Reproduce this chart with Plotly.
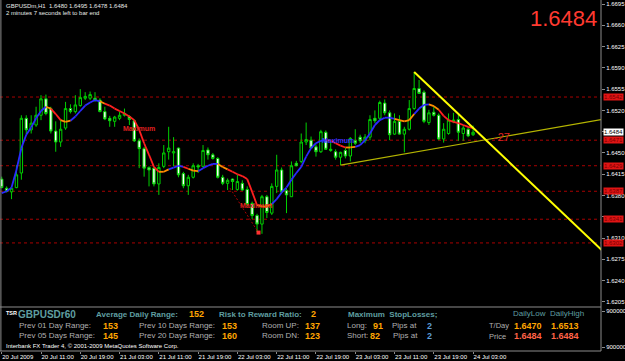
import plotly.graph_objects as go

FONT = "Liberation Sans, Arial, sans-serif"

# ---------------- data ----------------
symbol_title = "GBPUSDm,H1"
bar_index = list(range(97))
time_tick_bars = [0, 8, 16, 24, 32, 40, 48, 56, 64, 72, 80, 88, 96]
time_tick_labels = ["20 Jul 2009", "20 Jul 11:00", "20 Jul 19:00", "21 Jul 03:00",
                    "21 Jul 11:00", "21 Jul 19:00", "22 Jul 03:00", "22 Jul 11:00",
                    "22 Jul 19:00", "23 Jul 03:00", "23 Jul 11:00", "23 Jul 19:00",
                    "24 Jul 03:00"]
price_ticks = [1.6205, 1.6240, 1.6275, 1.6310, 1.6345, 1.6380, 1.6415, 1.6450,
               1.6485, 1.6520, 1.6555, 1.6590, 1.6625, 1.6660, 1.6695]
# tick labels hidden behind the price boxes on the axis
price_ticks_covered = [1.6345, 1.6485]

opens = [1.6407, 1.6392, 1.6386, 1.6393, 1.6417, 1.6507, 1.6488, 1.6496, 1.6512, 1.6539,
         1.6523, 1.6486, 1.6468, 1.6491, 1.6523, 1.6518, 1.6528, 1.6540, 1.6540, 1.6540,
         1.6537, 1.6518, 1.6507, 1.6502, 1.6507, 1.6512, 1.6510, 1.6503, 1.6470, 1.6457,
         1.6426, 1.6425, 1.6399, 1.6428, 1.6452, 1.6450, 1.6458, 1.6416, 1.6396, 1.6410,
         1.6429, 1.6428, 1.6455, 1.6447, 1.6441, 1.6410, 1.6400, 1.6407, 1.6390, 1.6400,
         1.6390, 1.6367, 1.6347, 1.6333, 1.6378, 1.6351, 1.6395, 1.6422, 1.6388, 1.6378,
         1.6433, 1.6436, 1.6468, 1.6471, 1.6460, 1.6452, 1.6484, 1.6454, 1.6452, 1.6443,
         1.6454, 1.6445, 1.6470, 1.6476, 1.6470, 1.6476, 1.6507, 1.6507, 1.6532, 1.6516,
         1.6481, 1.6502, 1.6481, 1.6489, 1.6523, 1.6556, 1.6550, 1.6500, 1.6517, 1.6512,
         1.6473, 1.6482, 1.6502, 1.6505, 1.6482, 1.6489, 1.6480]
highs = [1.6411, 1.6395, 1.6393, 1.6430, 1.6512, 1.6512, 1.6512, 1.6526, 1.6545, 1.6546,
         1.6526, 1.6502, 1.6504, 1.6534, 1.6530, 1.6545, 1.6555, 1.6550, 1.6551, 1.6550,
         1.6540, 1.6526, 1.6511, 1.6511, 1.6518, 1.6523, 1.6512, 1.6505, 1.6474, 1.6460,
         1.6428, 1.6426, 1.6433, 1.6463, 1.6493, 1.6476, 1.6459, 1.6419, 1.6414, 1.6433,
         1.6432, 1.6463, 1.6459, 1.6450, 1.6443, 1.6414, 1.6408, 1.6408, 1.6414, 1.6405,
         1.6395, 1.6370, 1.6350, 1.6381, 1.6381, 1.6400, 1.6447, 1.6426, 1.6392, 1.6436,
         1.6437, 1.6482, 1.6500, 1.6477, 1.6464, 1.6488, 1.6487, 1.6471, 1.6456, 1.6452,
         1.6458, 1.6476, 1.6489, 1.6480, 1.6481, 1.6512, 1.6520, 1.6536, 1.6538, 1.6520,
         1.6515, 1.6512, 1.6493, 1.6537, 1.6583, 1.6570, 1.6553, 1.6521, 1.6527, 1.6515,
         1.6499, 1.6515, 1.6516, 1.6513, 1.6496, 1.6493, 1.6495]
lows = [1.6392, 1.6385, 1.6374, 1.6392, 1.6406, 1.6480, 1.6482, 1.6493, 1.6504, 1.6512,
        1.6482, 1.6452, 1.6460, 1.6488, 1.6515, 1.6515, 1.6526, 1.6537, 1.6537, 1.6534,
        1.6517, 1.6504, 1.6493, 1.6493, 1.6504, 1.6510, 1.6496, 1.6468, 1.6425, 1.6411,
        1.6395, 1.6395, 1.6381, 1.6425, 1.6439, 1.6428, 1.6410, 1.6392, 1.6381, 1.6408,
        1.6417, 1.6426, 1.6439, 1.6439, 1.6408, 1.6397, 1.6389, 1.6389, 1.6388, 1.6388,
        1.6362, 1.6341, 1.6320, 1.6317, 1.6343, 1.6348, 1.6384, 1.6384, 1.6351, 1.6378,
        1.6428, 1.6433, 1.6463, 1.6458, 1.6444, 1.6450, 1.6455, 1.6452, 1.6439, 1.6430,
        1.6441, 1.6436, 1.6463, 1.6466, 1.6466, 1.6471, 1.6499, 1.6504, 1.6512, 1.6471,
        1.6480, 1.6480, 1.6451, 1.6487, 1.6521, 1.6547, 1.6499, 1.6496, 1.6510, 1.6471,
        1.6467, 1.6480, 1.6499, 1.6470, 1.6470, 1.6476, 1.6478]
closes = [1.6393, 1.6387, 1.6392, 1.6414, 1.6507, 1.6488, 1.6499, 1.6512, 1.6539, 1.6515,
          1.6486, 1.6468, 1.6489, 1.6523, 1.6518, 1.6529, 1.6541, 1.6543, 1.6546, 1.6537,
          1.6518, 1.6506, 1.6503, 1.6509, 1.6512, 1.6515, 1.6505, 1.6470, 1.6457, 1.6425,
          1.6422, 1.6399, 1.6426, 1.6450, 1.6458, 1.6452, 1.6414, 1.6396, 1.6410, 1.6429,
          1.6427, 1.6454, 1.6447, 1.6441, 1.6410, 1.6400, 1.6405, 1.6403, 1.6403, 1.6389,
          1.6365, 1.6347, 1.6333, 1.6378, 1.6352, 1.6395, 1.6422, 1.6386, 1.6381, 1.6429,
          1.6429, 1.6468, 1.6472, 1.6458, 1.6452, 1.6485, 1.6456, 1.6456, 1.6443, 1.6451,
          1.6445, 1.6474, 1.6466, 1.6470, 1.6476, 1.6505, 1.6503, 1.6533, 1.6516, 1.6480,
          1.6502, 1.6481, 1.6489, 1.6523, 1.6556, 1.6548, 1.6502, 1.6516, 1.6512, 1.6473,
          1.6489, 1.6504, 1.6504, 1.6484, 1.6491, 1.6478, 1.6484]

# smoothed moving average and its colour state (b = rising, o = turning, r = falling)
ma_values = [1.6384, 1.6387, 1.6393, 1.6422, 1.6458, 1.6480, 1.6492, 1.6507, 1.6519, 1.6526,
             1.6523, 1.6514, 1.6504, 1.6501, 1.6503, 1.6510, 1.6519, 1.6528, 1.6533, 1.6537,
             1.6535, 1.6531, 1.6528, 1.6523, 1.6519, 1.6515, 1.6510, 1.6504, 1.6488, 1.6466,
             1.6447, 1.6427, 1.6419, 1.6419, 1.6423, 1.6426, 1.6429, 1.6427, 1.6424, 1.6421,
             1.6420, 1.6425, 1.6429, 1.6432, 1.6432, 1.6427, 1.6423, 1.6419, 1.6415, 1.6412,
             1.6407, 1.6386, 1.6364, 1.6362, 1.6362, 1.6366, 1.6374, 1.6385, 1.6393, 1.6406,
             1.6417, 1.6427, 1.6444, 1.6458, 1.6466, 1.6470, 1.6471, 1.6470, 1.6466, 1.6462,
             1.6459, 1.6459, 1.6460, 1.6463, 1.6471, 1.6482, 1.6496, 1.6504, 1.6508, 1.6508,
             1.6506, 1.6504, 1.6502, 1.6504, 1.6514, 1.6523, 1.6529, 1.6530, 1.6527, 1.6521,
             1.6511, 1.6504, 1.6501, 1.6499, 1.6496, 1.6493, 1.6491]
ma_state = list("bbbbbbbbbb" "o" "rr" "oo" "bbbbbb" "o" "rrrrrrrrrrr" "oo" "bbb" "r" "oo"
                "bbbb" "oo" "rrrrrr" "ooo" "bbbbbbbbbbb" "rrrr" "oo" "bbbbbbbb" "oooo"
                "bbb" "oo" "rrrrrrr")

# horizontal levels (red dashed)
levels = [1.6542, 1.6471, 1.6429, 1.6387, 1.6341, 1.6302]

# trend lines
trend_down_x = [84, 125]
trend_down_y = [1.6583, 1.6269]
trend_up_x = [69, 125]
trend_up_y = [1.6430, 1.6509]

# zigzag leg and marker
zig_x = [46.5, 52.2]
zig_y = [1.6392, 1.6320]
marker_x = [52.3]
marker_y = [1.6319]

# indicator panel values
adr = 152
rr_ratio = 2
prev01, prev05, prev10, prev20 = 153, 145, 153, 160
room_up, room_dn = 137, 123
sl_long, sl_short = 91, 82
pips_long, pips_short = 2, 2
day_low, day_high = 1.6470, 1.6513

# ---------------- figure ----------------
GREEN = "#00d000"
MA_COL = {"b": "#2a2aff", "o": "#ff8c00", "r": "#ff2020"}
TEAL = "#5f9ea0"
ORANGE = "#ffa500"
GRAY = "#b0b0b0"

W_PLOT, H_PLOT = 601, 351
SEP_Y = 307


def P(x, y):
    return x / W_PLOT, (H_PLOT - y) / H_PLOT


fig = go.Figure()

fig.add_trace(go.Candlestick(
    x=bar_index, open=opens, high=highs, low=lows, close=closes,
    increasing=dict(line=dict(color=GREEN, width=1), fillcolor="black"),
    decreasing=dict(line=dict(color=GREEN, width=1), fillcolor="white"),
    whiskerwidth=0, showlegend=False, hoverinfo="skip", xaxis="x", yaxis="y"))

for c, col in MA_COL.items():
    xs, ys = [], []
    for i in range(1, len(ma_values)):
        if ma_state[i] == c:
            xs += [bar_index[i - 1], bar_index[i], None]
            ys += [ma_values[i - 1], ma_values[i], None]
    fig.add_trace(go.Scatter(x=xs, y=ys, mode="lines", line=dict(color=col, width=1.8),
                             showlegend=False, hoverinfo="skip"))

fig.add_trace(go.Scatter(x=zig_x, y=zig_y, mode="lines",
                         line=dict(color="#b00000", width=1, dash="2px,2px"),
                         showlegend=False, hoverinfo="skip"))
fig.add_trace(go.Scatter(x=marker_x, y=marker_y, mode="markers",
                         marker=dict(color="#ff3030", symbol="square", size=4),
                         showlegend=False, hoverinfo="skip"))
fig.add_trace(go.Scatter(x=trend_up_x, y=trend_up_y, mode="lines",
                         line=dict(color="#b4b400", width=1.2),
                         showlegend=False, hoverinfo="skip"))
fig.add_trace(go.Scatter(x=trend_down_x, y=trend_down_y, mode="lines",
                         line=dict(color="#ffff00", width=2),
                         showlegend=False, hoverinfo="skip"))
# empty trace to hold the indicator sub-window
fig.add_trace(go.Scatter(x=[None], y=[None], xaxis="x", yaxis="y2", showlegend=False,
                         hoverinfo="skip"))

shapes = []
for lv in levels:
    shapes.append(dict(type="line", xref="paper", x0=0, x1=1, yref="y", y0=lv, y1=lv,
                       line=dict(color="#a80000", width=1, dash="3px,3px"), layer="below"))
border = "#8c8c8c"
sep = (H_PLOT - SEP_Y) / H_PLOT
shapes += [
    dict(type="line", xref="paper", yref="paper", x0=0.0015, x1=0.0015, y0=0, y1=1,
         line=dict(color=border, width=1)),
    dict(type="line", xref="paper", yref="paper", x0=1, x1=1, y0=0, y1=1,
         line=dict(color=border, width=1)),
    dict(type="line", xref="paper", yref="paper", x0=0, x1=1, y0=0, y1=0,
         line=dict(color=border, width=1)),
    dict(type="line", xref="paper", yref="paper", x0=0, x1=1, y0=sep, y1=sep,
         line=dict(color=border, width=1)),
]

ann = []


def txt(x, y, text, size, color, bold=False, anchor="left"):
    px, py = P(x, y)
    ann.append(dict(x=px, y=py, xref="paper", yref="paper",
                    text=f"<b>{text}</b>" if bold else text, showarrow=False,
                    xanchor=anchor, yanchor="middle",
                    font=dict(size=size, color=color, family=FONT)))


last = closes[-1]
txt(4, 6, f"{symbol_title}&nbsp; {opens[-1]:.4f} {highs[-1]:.4f} {lows[-1]:.4f} {closes[-1]:.4f}",
    6, "#e8e8e8")
txt(4, 13.5, "2 minutes 7 seconds left to bar end", 6, "#e8e8e8")
txt(599, 18, f"{last:.4f}", 22, "#ff3a30", anchor="right")

# axis price boxes
for lv in levels:
    ann.append(dict(x=1.004, y=lv, xref="paper", yref="y", text=f"{lv:.4f}",
                    showarrow=False, xanchor="left", yanchor="middle", bgcolor="#e01414",
                    borderpad=0, font=dict(size=6, color="#7a0000", family=FONT)))
ann.append(dict(x=1.004, y=last, xref="paper", yref="y", text=f"{last:.4f}",
                showarrow=False, xanchor="left", yanchor="middle", bgcolor="white",
                borderpad=0, font=dict(size=6, color="black", family=FONT)))

# chart labels
for xv, yv, col in [(28, 1.6491, "#e02020"), (51.8, 1.6363, "#e02020"), (68.5, 1.6470, "#3030ff")]:
    ann.append(dict(x=xv, y=yv, xref="x", yref="y", text="<b>Maximum</b>", showarrow=False,
                    font=dict(size=7, color=col, family=FONT)))
ann.append(dict(x=101.9, y=1.6476, xref="x", yref="y", text="-27", showarrow=False,
                font=dict(size=11, color="#e02020", family=FONT)))

# indicator panel
r1, r2, r3 = 314, 325.5, 335.5
NUM = 9
txt(4, 312.5, "TSR", 5.5, "white", bold=True)
txt(16, r1, "GBPUSDr60", 10, TEAL, bold=True)
txt(94, r1, "Average Daily Range:", 8, TEAL, bold=True)
txt(187, r1, str(adr), NUM, ORANGE, bold=True)
txt(217, r1, "Risk to Reward Ratio:", 8, TEAL, bold=True)
txt(309, r1, str(rr_ratio), NUM, ORANGE, bold=True)
txt(346, r1, "Maximum&nbsp; StopLosses;", 8, TEAL, bold=True)
txt(511, 313, "DailyLow", 8, TEAL)
txt(548, 313, "DailyHigh", 8, TEAL)

txt(17, r2, "Prev 01 Day Range:", 8, GRAY)
txt(101, r2, str(prev01), NUM, ORANGE, bold=True)
txt(137, r2, "Prev 10 Days Range:", 8, GRAY)
txt(220, r2, str(prev10), NUM, ORANGE, bold=True)
txt(260, r2, "Room UP:", 8, GRAY)
txt(303, r2, str(room_up), NUM, ORANGE, bold=True)
txt(345, r2, "Long:", 8, GRAY)
txt(371, r2, str(sl_long), NUM, ORANGE, bold=True)
txt(390, r2, "Pips at", 8, GRAY)
txt(425, r2, str(pips_long), NUM, "#5b9bd5", bold=True)
txt(487, 325, "T/Day", 7.5, GRAY)
txt(512, r2, f"{day_low:.4f}", NUM, ORANGE, bold=True)
txt(549, r2, f"{day_high:.4f}", NUM, ORANGE, bold=True)

txt(17, r3, "Prev 05 Days Range:", 8, GRAY)
txt(101, r3, str(prev05), NUM, ORANGE, bold=True)
txt(137, r3, "Prev 20 Days Range:", 8, GRAY)
txt(220, r3, str(prev20), NUM, ORANGE, bold=True)
txt(260, r3, "Room DN:", 8, GRAY)
txt(303, r3, str(room_dn), NUM, ORANGE, bold=True)
txt(345, r3, "Short:", 8, GRAY)
txt(368, r3, str(sl_short), NUM, ORANGE, bold=True)
txt(391, r3, "Pips at", 8, GRAY)
txt(425, r3, str(pips_short), NUM, "#5b9bd5", bold=True)
txt(487, 336, "Price", 7.5, GRAY)
txt(512, r3, f"{last:.4f}", NUM, "#ff6347", bold=True)
txt(549, r3, f"{last:.4f}", NUM, "#ff6347", bold=True)

txt(4, 346, "Interbank FX Trader 4, © 2001-2009 MetaQuotes Software Corp.", 6, "white")

price_tick_text = ["" if t in price_ticks_covered else f"{t:.4f}" for t in price_ticks]

fig.update_layout(
    width=625, height=361, autosize=False,
    margin=dict(l=0, r=24, t=0, b=10, autoexpand=False),
    paper_bgcolor="black", plot_bgcolor="black",
    showlegend=False, shapes=shapes, annotations=ann,
    xaxis=dict(anchor="y2", range=[-0.35, 122.05], tickvals=time_tick_bars,
               ticktext=time_tick_labels, ticks="outside", ticklen=2, tickcolor=border,
               ticklabelposition="outside right", tickangle=0, automargin=False,
               tickfont=dict(size=6, color="white", family=FONT),
               showgrid=False, zeroline=False, showline=False,
               rangeslider=dict(visible=False), fixedrange=True),
    yaxis=dict(domain=[sep, 1], side="right", range=[1.61966, 1.67016], automargin=False,
               tickvals=price_ticks, ticktext=price_tick_text, ticks="outside", ticklen=3,
               tickcolor=border, tickfont=dict(size=6, color="white", family=FONT),
               showgrid=False, zeroline=False, showline=False),
    yaxis2=dict(domain=[0, (H_PLOT - SEP_Y - 1) / H_PLOT], side="right", range=[0, 1],
                automargin=False,
                tickvals=[0.93, 0.09], ticktext=["9000000", "9000000"], ticks="outside",
                ticklen=3, tickcolor=border,
                tickfont=dict(size=6, color="white", family=FONT),
                showgrid=False, zeroline=False, showline=False),
)

fig.write_html("out.html")
